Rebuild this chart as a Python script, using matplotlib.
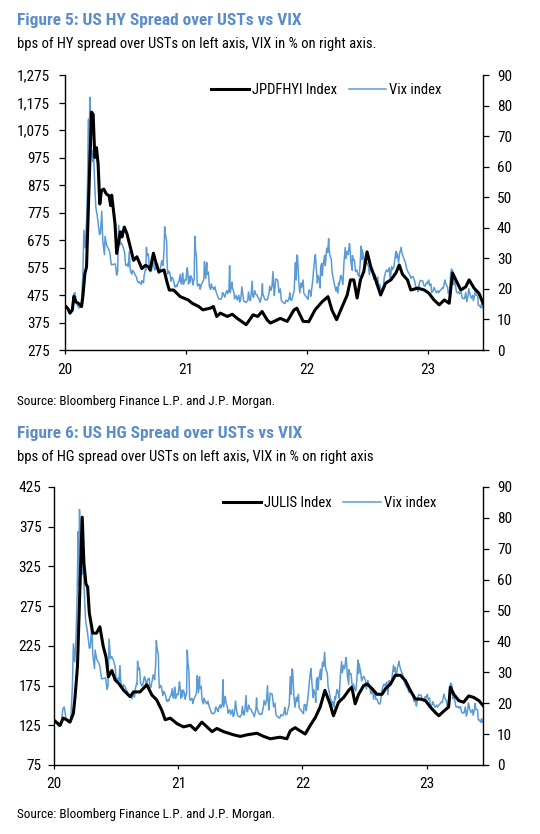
import matplotlib
matplotlib.use("Agg")
import matplotlib.pyplot as plt
import matplotlib.ticker as mticker
import matplotlib.dates as mdates
import pandas as pd

plt.rcParams["font.family"] = ["Roboto Condensed", "Liberation Sans", "DejaVu Sans"]

# === Du lieu doc tu hinh (VIX dung chung cho 2 bieu do) ===
VIX_DATES = [
    # 2020
    "2020-01-02", "2020-01-08", "2020-01-15", "2020-01-22", "2020-01-27", "2020-01-31",
    "2020-02-05", "2020-02-12", "2020-02-19", "2020-02-24", "2020-02-27", "2020-03-02",
    "2020-03-06", "2020-03-09", "2020-03-12", "2020-03-13", "2020-03-16", "2020-03-18",
    "2020-03-20", "2020-03-24", "2020-03-27", "2020-03-31", "2020-04-03", "2020-04-08",
    "2020-04-14", "2020-04-17", "2020-04-21", "2020-04-24", "2020-04-29", "2020-05-01",
    "2020-05-06", "2020-05-12", "2020-05-15", "2020-05-20", "2020-05-26", "2020-06-01",
    "2020-06-05", "2020-06-08", "2020-06-11", "2020-06-15", "2020-06-19", "2020-06-24",
    "2020-06-29", "2020-07-02", "2020-07-06", "2020-07-08", "2020-07-10", "2020-07-13",
    "2020-07-15", "2020-07-17", "2020-07-21", "2020-07-23", "2020-07-24", "2020-07-28",
    "2020-07-30", "2020-07-31", "2020-08-04", "2020-08-06", "2020-08-10", "2020-08-12",
    "2020-08-14", "2020-08-18", "2020-08-20", "2020-08-21", "2020-08-25", "2020-08-27",
    "2020-08-31", "2020-09-01", "2020-09-03", "2020-09-04", "2020-09-08", "2020-09-10",
    "2020-09-11", "2020-09-15", "2020-09-16", "2020-09-18", "2020-09-21", "2020-09-23",
    "2020-09-24", "2020-09-28", "2020-09-30", "2020-10-02", "2020-10-05", "2020-10-07",
    "2020-10-09", "2020-10-12", "2020-10-14", "2020-10-16", "2020-10-19", "2020-10-21",
    "2020-10-23", "2020-10-26", "2020-10-28", "2020-10-30", "2020-11-03", "2020-11-04",
    "2020-11-06", "2020-11-09", "2020-11-12", "2020-11-16", "2020-11-18", "2020-11-20",
    "2020-11-24", "2020-11-27", "2020-11-30", "2020-12-02", "2020-12-04", "2020-12-08",
    "2020-12-10", "2020-12-14", "2020-12-15", "2020-12-18", "2020-12-21", "2020-12-23",
    "2020-12-24", "2020-12-29", "2020-12-31",
    # 2021
    "2021-01-04", "2021-01-06", "2021-01-08", "2021-01-11", "2021-01-13", "2021-01-15",
    "2021-01-19", "2021-01-21", "2021-01-22", "2021-01-25", "2021-01-27", "2021-01-29",
    "2021-02-01", "2021-02-03", "2021-02-05", "2021-02-09", "2021-02-11", "2021-02-12",
    "2021-02-16", "2021-02-19", "2021-02-23", "2021-02-25", "2021-02-26", "2021-03-01",
    "2021-03-03", "2021-03-04", "2021-03-05", "2021-03-09", "2021-03-11", "2021-03-12",
    "2021-03-16", "2021-03-18", "2021-03-19", "2021-03-23", "2021-03-25", "2021-03-29",
    "2021-03-31", "2021-04-05", "2021-04-07", "2021-04-09", "2021-04-13", "2021-04-15",
    "2021-04-19", "2021-04-20", "2021-04-22", "2021-04-26", "2021-04-28", "2021-04-30",
    "2021-05-04", "2021-05-06", "2021-05-10", "2021-05-12", "2021-05-13", "2021-05-14",
    "2021-05-18", "2021-05-19", "2021-05-21", "2021-05-25", "2021-05-27", "2021-06-01",
    "2021-06-04", "2021-06-09", "2021-06-11", "2021-06-14", "2021-06-16", "2021-06-18",
    "2021-06-21", "2021-06-24", "2021-06-28", "2021-07-01", "2021-07-06", "2021-07-08",
    "2021-07-12", "2021-07-14", "2021-07-16", "2021-07-19", "2021-07-21", "2021-07-23",
    "2021-07-27", "2021-07-30", "2021-08-03", "2021-08-05", "2021-08-09", "2021-08-12",
    "2021-08-17", "2021-08-19", "2021-08-20", "2021-08-24", "2021-08-27", "2021-08-31",
    "2021-09-03", "2021-09-08", "2021-09-10", "2021-09-14", "2021-09-17", "2021-09-20",
    "2021-09-22", "2021-09-24", "2021-09-28", "2021-09-30", "2021-10-04", "2021-10-06",
    "2021-10-08", "2021-10-12", "2021-10-15", "2021-10-19", "2021-10-22", "2021-10-26",
    "2021-10-29", "2021-11-02", "2021-11-04", "2021-11-08", "2021-11-10", "2021-11-12",
    "2021-11-16", "2021-11-19", "2021-11-23", "2021-11-26", "2021-11-29", "2021-12-01",
    "2021-12-03", "2021-12-07", "2021-12-10", "2021-12-14", "2021-12-16", "2021-12-20",
    "2021-12-22", "2021-12-27", "2021-12-31",
    # 2022
    "2022-01-04", "2022-01-06", "2022-01-10", "2022-01-12", "2022-01-14", "2022-01-18",
    "2022-01-20", "2022-01-24", "2022-01-26", "2022-01-28", "2022-02-01", "2022-02-03",
    "2022-02-07", "2022-02-09", "2022-02-11", "2022-02-14", "2022-02-16", "2022-02-18",
    "2022-02-23", "2022-02-25", "2022-03-01", "2022-03-04", "2022-03-07", "2022-03-09",
    "2022-03-11", "2022-03-15", "2022-03-17", "2022-03-21", "2022-03-24", "2022-03-29",
    "2022-03-31", "2022-04-04", "2022-04-06", "2022-04-08", "2022-04-12", "2022-04-14",
    "2022-04-19", "2022-04-22", "2022-04-26", "2022-04-28", "2022-05-02", "2022-05-05",
    "2022-05-09", "2022-05-11", "2022-05-13", "2022-05-17", "2022-05-18", "2022-05-20",
    "2022-05-24", "2022-05-27", "2022-05-31", "2022-06-03", "2022-06-07", "2022-06-10",
    "2022-06-13", "2022-06-15", "2022-06-16", "2022-06-21", "2022-06-24", "2022-06-28",
    "2022-06-30", "2022-07-05", "2022-07-08", "2022-07-12", "2022-07-14", "2022-07-18",
    "2022-07-20", "2022-07-22", "2022-07-26", "2022-07-29", "2022-08-02", "2022-08-05",
    "2022-08-09", "2022-08-11", "2022-08-16", "2022-08-19", "2022-08-22", "2022-08-26",
    "2022-08-29", "2022-09-01", "2022-09-06", "2022-09-09", "2022-09-13", "2022-09-16",
    "2022-09-20", "2022-09-23", "2022-09-26", "2022-09-28", "2022-09-30", "2022-10-04",
    "2022-10-07", "2022-10-12", "2022-10-14", "2022-10-18", "2022-10-21", "2022-10-25",
    "2022-10-27", "2022-10-31", "2022-11-03", "2022-11-07", "2022-11-10", "2022-11-14",
    "2022-11-17", "2022-11-22", "2022-11-25", "2022-11-30", "2022-12-02", "2022-12-06",
    "2022-12-09", "2022-12-13", "2022-12-16", "2022-12-20", "2022-12-23", "2022-12-28",
    "2022-12-30",
    # 2023
    "2023-01-03", "2023-01-06", "2023-01-10", "2023-01-12", "2023-01-17", "2023-01-19",
    "2023-01-24", "2023-01-26", "2023-01-31", "2023-02-02", "2023-02-06", "2023-02-08",
    "2023-02-13", "2023-02-16", "2023-02-21", "2023-02-22", "2023-02-27", "2023-03-01",
    "2023-03-03", "2023-03-07", "2023-03-08", "2023-03-10", "2023-03-13", "2023-03-15",
    "2023-03-17", "2023-03-20", "2023-03-22", "2023-03-24", "2023-03-28", "2023-03-31",
    "2023-04-04", "2023-04-06", "2023-04-11", "2023-04-14", "2023-04-18", "2023-04-21",
    "2023-04-25", "2023-04-28", "2023-05-02", "2023-05-04", "2023-05-09", "2023-05-12",
    "2023-05-16", "2023-05-18", "2023-05-23", "2023-05-24", "2023-05-26", "2023-05-31",
    "2023-06-02", "2023-06-06", "2023-06-09", "2023-06-12", "2023-06-15",
]
VIX_VALUES = [
    # 2020
    13.8, 13.5, 12.4, 12.9, 18.2, 18.8,
    15.2, 13.7, 14.4, 25.0, 39.2, 33.4,
    41.9, 54.5, 75.5, 57.8, 82.7, 76.5,
    66.0, 61.7, 65.5, 53.5, 46.8, 43.4,
    37.8, 38.2, 45.4, 35.9, 31.2, 37.2,
    34.1, 33.0, 31.9, 27.9, 28.0, 28.2,
    24.5, 25.8, 40.8, 34.4, 35.1, 33.8,
    31.8, 27.7, 27.9, 28.1, 27.3, 32.2,
    27.8, 25.7, 24.8, 26.1, 25.8, 25.4,
    24.8, 24.5, 23.8, 22.7, 22.1, 22.3,
    22.1, 21.5, 22.7, 22.5, 22.0, 24.5,
    26.4, 26.1, 33.6, 30.8, 31.5, 29.7,
    26.9, 25.6, 26.0, 25.8, 27.8, 28.6,
    28.5, 26.2, 26.4, 27.6, 27.9, 28.1,
    25.0, 25.1, 26.4, 27.4, 29.2, 28.7,
    27.6, 32.5, 40.3, 38.0, 35.6, 29.6,
    24.9, 25.8, 25.4, 22.5, 23.8, 23.7,
    22.7, 20.8, 20.6, 21.2, 20.8, 22.3,
    22.5, 24.7, 22.3, 21.6, 25.2, 23.3,
    21.5, 23.1, 22.8,
    # 2021
    26.9, 25.1, 21.6, 24.1, 22.2, 24.3,
    23.2, 21.3, 21.9, 23.2, 37.2, 33.1,
    30.2, 21.6, 20.9, 21.6, 21.3, 19.9,
    21.5, 22.1, 23.1, 28.9, 27.9, 23.4,
    26.7, 28.6, 24.7, 25.5, 21.9, 20.7,
    19.8, 21.6, 20.9, 20.3, 19.8, 20.7,
    19.4, 17.9, 17.2, 16.7, 16.7, 16.6,
    17.3, 18.7, 18.7, 17.6, 17.3, 18.6,
    19.5, 18.4, 19.7, 27.6, 23.1, 18.8,
    21.3, 22.2, 20.2, 18.8, 16.7, 17.9,
    16.4, 17.9, 15.7, 16.4, 18.1, 20.7,
    17.9, 15.9, 15.8, 15.5, 16.4, 19.0,
    16.2, 16.3, 18.5, 22.5, 17.9, 17.2,
    19.4, 18.2, 18.0, 17.3, 16.7, 15.6,
    17.9, 21.7, 18.6, 17.2, 16.4, 16.5,
    16.4, 18.7, 20.9, 19.5, 20.8, 25.7,
    20.9, 17.8, 23.3, 23.1, 22.9, 21.0,
    18.8, 20.0, 16.3, 15.7, 15.4, 15.2,
    16.3, 15.9, 16.0, 17.2, 18.7, 16.3,
    16.4, 17.9, 19.4, 28.6, 22.9, 31.1,
    30.7, 21.9, 18.7, 21.9, 20.6, 22.9,
    18.6, 17.7, 17.2,
    # 2022
    16.6, 19.6, 19.4, 17.6, 19.2, 22.8,
    25.6, 29.9, 31.2, 27.7, 21.9, 24.4,
    22.9, 20.3, 27.4, 28.3, 24.3, 27.8,
    31.0, 27.6, 33.3, 31.9, 36.5, 32.5,
    30.8, 29.8, 25.7, 23.5, 21.7, 19.3,
    20.6, 18.6, 22.1, 21.2, 24.3, 24.4,
    21.4, 28.2, 33.5, 29.9, 32.3, 31.2,
    34.8, 32.6, 28.9, 26.1, 30.9, 29.4,
    29.5, 25.7, 26.2, 24.8, 24.0, 27.8,
    34.0, 29.6, 32.9, 30.2, 27.2, 28.4,
    28.7, 27.5, 24.6, 27.3, 26.4, 25.3,
    23.9, 23.0, 24.7, 21.3, 23.9, 21.2,
    21.3, 20.2, 19.7, 20.6, 23.8, 25.6,
    26.2, 25.6, 26.9, 22.8, 27.3, 26.3,
    27.2, 29.9, 32.3, 30.2, 31.6, 28.6,
    31.4, 33.6, 32.0, 30.5, 29.7, 28.5,
    27.3, 25.9, 25.3, 24.6, 23.5, 24.0,
    24.0, 22.4, 20.5, 20.6, 19.1, 22.0,
    22.8, 22.6, 22.6, 21.0, 20.9, 22.1,
    21.7,
    # 2023
    22.9, 21.1, 21.6, 18.8, 19.4, 20.5,
    19.2, 18.7, 19.4, 18.7, 19.4, 19.6,
    20.3, 20.2, 22.9, 22.3, 20.9, 20.6,
    18.5, 19.6, 19.1, 24.8, 26.5, 26.1,
    25.5, 21.4, 22.3, 21.7, 19.0, 18.7,
    19.0, 18.4, 18.9, 17.1, 16.8, 16.8,
    18.8, 15.8, 17.8, 20.1, 17.7, 17.0,
    17.9, 16.1, 18.5, 20.0, 18.0, 17.9,
    14.6, 14.6, 13.8, 15.0, 13.8,
]

HY_DATES = [
    "2020-01-02", "2020-01-10", "2020-01-16", "2020-01-23", "2020-01-28", "2020-02-03",
    "2020-02-10", "2020-02-20", "2020-02-24", "2020-03-01", "2020-03-06", "2020-03-11",
    "2020-03-16", "2020-03-21", "2020-03-26", "2020-03-31", "2020-04-05", "2020-04-10",
    "2020-04-15", "2020-04-20", "2020-04-27", "2020-05-05", "2020-05-13", "2020-05-18",
    "2020-05-21", "2020-05-31", "2020-06-05", "2020-06-12", "2020-06-16", "2020-06-21",
    "2020-06-28", "2020-07-06", "2020-07-16", "2020-07-26", "2020-08-05", "2020-08-20",
    "2020-08-31", "2020-09-09", "2020-09-14", "2020-09-24", "2020-10-02", "2020-10-10",
    "2020-10-26", "2020-11-05", "2020-11-11", "2020-11-24", "2020-12-14",
    "2021-01-07", "2021-01-19", "2021-02-08", "2021-02-20", "2021-03-14", "2021-03-24",
    "2021-04-03", "2021-04-14", "2021-05-05", "2021-05-20", "2021-06-04", "2021-07-01",
    "2021-07-22", "2021-08-05", "2021-08-18", "2021-09-02", "2021-09-12", "2021-09-25",
    "2021-10-12", "2021-11-02", "2021-11-22", "2021-12-01", "2021-12-20",
    "2022-01-06", "2022-01-25", "2022-02-15", "2022-03-05", "2022-03-17",
    "2022-03-31", "2022-04-17", "2022-05-02", "2022-05-12", "2022-05-22", "2022-06-01",
    "2022-06-11", "2022-06-21", "2022-07-01", "2022-07-12", "2022-07-27", "2022-08-11",
    "2022-08-26", "2022-09-11", "2022-09-26", "2022-10-06", "2022-10-16", "2022-10-31",
    "2022-11-10", "2022-12-01", "2022-12-21",
    "2023-01-04", "2023-01-19", "2023-02-04", "2023-02-19", "2023-03-06", "2023-03-16",
    "2023-03-26", "2023-04-10", "2023-04-25", "2023-05-05", "2023-05-20", "2023-06-04",
    "2023-06-16",
]
HY_VALUES = [
    435, 425, 409, 420, 470, 450,
    445, 433, 470, 553, 577, 770,
    960, 1140, 1132, 975, 1011, 951,
    806, 855, 860, 842, 836, 800,
    838, 734, 626, 674, 705, 686,
    722, 698, 650, 601, 614, 571,
    583, 577, 566, 627, 590, 560,
    566, 517, 493, 493, 469,
    457, 445, 433, 421, 427, 433,
    397, 409, 397, 405, 390, 367,
    403, 397, 415, 385, 373, 380,
    390, 379, 420, 427, 379,
    378, 421, 450, 469, 420,
    385, 433, 475, 530, 530, 464,
    530, 560, 632, 578, 530, 475,
    518, 530, 555, 584, 550, 530,
    493, 500, 493,
    481, 457, 439, 457, 445, 555,
    530, 493, 505, 530, 500, 481,
    445,
]

HG_DATES = [
    "2020-01-02", "2020-01-19", "2020-01-28", "2020-02-07", "2020-02-17", "2020-02-27",
    "2020-03-03", "2020-03-10", "2020-03-18", "2020-03-24", "2020-03-29", "2020-04-04",
    "2020-04-09", "2020-04-14", "2020-04-24", "2020-05-05", "2020-05-15", "2020-05-25",
    "2020-06-02", "2020-06-09", "2020-06-19", "2020-06-29", "2020-07-09", "2020-07-24",
    "2020-08-12", "2020-08-22", "2020-09-10", "2020-09-30", "2020-10-15", "2020-10-29",
    "2020-11-13", "2020-11-23", "2020-12-08", "2020-12-28",
    "2021-01-16", "2021-02-05", "2021-02-20", "2021-03-11", "2021-03-26", "2021-04-10",
    "2021-04-24", "2021-05-14", "2021-06-12", "2021-07-02", "2021-07-22", "2021-08-20",
    "2021-09-09", "2021-09-28", "2021-10-27", "2021-11-16", "2021-11-26", "2021-12-10",
    "2021-12-25",
    "2022-01-09", "2022-01-24", "2022-02-08", "2022-02-22", "2022-03-08", "2022-03-23",
    "2022-04-02", "2022-04-17", "2022-05-02", "2022-05-17", "2022-05-26", "2022-06-05",
    "2022-06-15", "2022-06-30", "2022-07-10", "2022-07-25", "2022-08-08", "2022-08-23",
    "2022-09-02", "2022-09-17", "2022-10-01", "2022-10-16", "2022-10-31", "2022-11-14",
    "2022-11-29", "2022-12-14", "2022-12-29",
    "2023-01-12", "2023-01-27", "2023-02-06", "2023-02-21", "2023-03-07", "2023-03-12",
    "2023-03-22", "2023-04-06", "2023-04-20", "2023-05-05", "2023-05-20", "2023-06-04",
    "2023-06-16",
]
HG_VALUES = [
    131, 125, 134, 132, 129, 140,
    161, 199, 308, 387, 329, 303,
    299, 266, 241, 241, 249, 224,
    211, 186, 194, 182, 178, 169,
    161, 167, 167, 176, 163, 157,
    144, 132, 134, 127,
    123, 125, 119, 129, 123, 117,
    121, 117, 113, 111, 113, 115,
    111, 108, 110, 108, 118, 122,
    118,
    114, 125, 135, 148, 169, 152,
    137, 154, 160, 169, 173, 152,
    164, 175, 177, 171, 164, 164,
    171, 177, 188, 188, 181, 169,
    158, 158, 156,
    148, 141, 137, 143, 148, 173,
    164, 156, 154, 162, 160, 156,
    150,
]

HY_TICKS = [275, 375, 475, 575, 675, 775, 875, 975, 1075, 1175, 1275]
HG_TICKS = [75, 125, 175, 225, 275, 325, 375, 425]
VIX_TICKS = [0, 10, 20, 30, 40, 50, 60, 70, 80, 90]
YEAR_TICKS = ["2020-01-01", "2021-01-01", "2022-01-01", "2023-01-01"]

X_START = "2020-01-01"
X_END = "2023-06-16"

FIG_W, FIG_H = 540, 834
TITLE_COLOR = "#5B8DC8"
VIX_COLOR = "#5B9BD5"


def fx(px):
    return px / FIG_W


def fy(py):
    return 1 - py / FIG_H


def draw_panel(fig, rect, dates, values, left_ticks, label, left_pad, legend_xy):
    x0, y0, x1, y1 = rect
    ax = fig.add_axes([fx(x0), fy(y1), fx(x1) - fx(x0), (y1 - y0) / FIG_H])
    ax2 = ax.twinx()

    l2, = ax2.plot(pd.to_datetime(VIX_DATES), VIX_VALUES, color=VIX_COLOR, lw=1.1,
                   label="Vix index")
    l1, = ax.plot(pd.to_datetime(dates), values, color="black", lw=2.2, label=label)

    # truc trai (spread) nam tren truc phai (VIX)
    ax.set_zorder(ax2.get_zorder() + 1)
    ax.patch.set_visible(False)

    ax.set_xlim(pd.Timestamp(X_START), pd.Timestamp(X_END))
    ax.set_ylim(left_ticks[0], left_ticks[-1])
    ax2.set_ylim(VIX_TICKS[0], VIX_TICKS[-1])
    ax.set_yticks(left_ticks)
    ax2.set_yticks(VIX_TICKS)
    ax.yaxis.set_major_formatter(mticker.FuncFormatter(lambda v, p: f"{int(v):,}"))
    ax.set_xticks(pd.to_datetime(YEAR_TICKS))
    ax.xaxis.set_major_formatter(mdates.DateFormatter("%y"))

    for a in (ax, ax2):
        a.spines["top"].set_visible(False)
        for s in a.spines.values():
            s.set_linewidth(1.0)
    ax.spines["right"].set_visible(False)
    ax2.spines["left"].set_visible(False)
    ax2.spines["bottom"].set_visible(False)

    ax.tick_params(axis="y", direction="out", length=4, width=0.9, labelsize=11,
                   pad=left_pad)
    ax.tick_params(axis="x", direction="out", length=3, width=0.9, labelsize=11, pad=6)
    ax2.tick_params(axis="y", direction="out", length=4, width=0.9, labelsize=11, pad=6)

    ax.legend(handles=[l1, l2], loc="center left",
              bbox_to_anchor=(fx(legend_xy[0]), fy(legend_xy[1])),
              bbox_transform=fig.transFigure, frameon=False, ncol=2,
              fontsize=10.5, handlelength=2.6, handletextpad=0.2,
              columnspacing=0.8, borderpad=0, borderaxespad=0)
    return ax


fig = plt.figure(figsize=(FIG_W / 100, FIG_H / 100), dpi=100)

# --- Figure 5 ---
fig.text(fx(17), fy(25), "Figure 5: US HY Spread over USTs vs VIX", fontsize=12.5,
         fontweight="bold", color=TITLE_COLOR, va="baseline")
fig.text(fx(17), fy(48), "bps of HY spread over USTs on left axis, VIX in % on right axis.",
         fontsize=10.5, va="baseline")
draw_panel(fig, (65, 75, 483, 350), HY_DATES, HY_VALUES, HY_TICKS, "JPDFHYI Index",
           7, (211, 90))
fig.text(fx(17), fy(405), "Source: Bloomberg Finance L.P. and J.P. Morgan.",
         fontsize=9.5, va="baseline")

# --- Figure 6 ---
fig.text(fx(17), fy(438), "Figure 6: US HG Spread over USTs vs VIX", fontsize=12.5,
         fontweight="bold", color=TITLE_COLOR, va="baseline")
fig.text(fx(17), fy(461), "bps of HG spread over USTs on left axis, VIX in % on right axis",
         fontsize=10.5, va="baseline")
draw_panel(fig, (54, 487, 483, 765), HG_DATES, HG_VALUES, HG_TICKS, "JULIS Index",
           5, (223, 503))
fig.text(fx(17), fy(818), "Source: Bloomberg Finance L.P. and J.P. Morgan.",
         fontsize=9.5, va="baseline")

fig.savefig("out.png", dpi=100)
plt.close(fig)
